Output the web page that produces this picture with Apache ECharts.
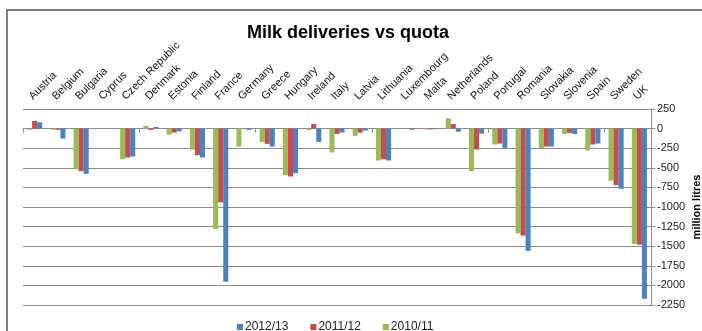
<!DOCTYPE html>
<html>
<head>
<meta charset="utf-8">
<script src="https://cdn.jsdelivr.net/npm/echarts@6/dist/echarts.min.js"></script>
<style>
html,body{margin:0;padding:0;background:#fff;}
#chart{width:702px;height:331px;}
</style>
</head>
<body>
<div id="chart"></div>
<script>
var categories = ['Austria','Belgium','Bulgaria','Cyprus','Czech Republic','Denmark','Estonia','Finland','France','Germany','Greece','Hungary','Ireland','Italy','Latvia','Lithuania','Luxembourg','Malta','Netherlands','Poland','Portugal','Romania','Slovakia','Slovenia','Spain','Sweden','UK'];
var s2012 = [80,-127,-577,0,-356,21,-34,-369,-1955,-17,-229,-568,-170,-51,-25,-407,-15,-8,-40,-64,-246,-1560,-229,-68,-191,-767,-2171];
var s2011 = [97,-15,-543,0,-369,-17,-51,-339,-941,0,-195,-611,59,-68,-51,-390,0,-10,59,-267,-191,-1365,-229,-55,-203,-721,-1480];
var s2010 = [-13,-15,-517,0,-390,34,-76,-267,-1280,-229,-170,-594,-17,-305,-93,-407,-3,-10,131,-542,-203,-1335,-250,-68,-280,-665,-1471];
var seriesNames = ['2012/13','2011/12','2010/11'];
var yTicks = {min:-2250, max:250, interval:250};

var chart = echarts.init(document.getElementById('chart'), null, {renderer:'canvas'});
var font = 'Liberation Sans, Arial, sans-serif';
var gridColor = '#8c8c8c';
chart.setOption({
  animation:false,
  backgroundColor:'#fff',
  title:{
    text:'Milk deliveries vs quota',
    left:242, top:19,
    textStyle:{fontFamily:font,fontSize:18,fontWeight:'bold',color:'#000'}
  },
  graphic:[{
    type:'rect', shape:{x:7,y:10,width:800,height:400},
    style:{fill:null,stroke:'#7f7f7f',lineWidth:2}, silent:true
  }],
  legend:{
    data:seriesNames,
    left:232, top:316,
    itemWidth:6, itemHeight:6, itemGap:22,
    icon:'rect',
    textStyle:{fontFamily:font,fontSize:12,color:'#222',padding:[0,0,0,-3]}
  },
  grid:{left:23,right:51,top:109,bottom:26,containLabel:false,outerBoundsMode:'none'},
  xAxis:[{
    type:'category', data:categories, position:'bottom',
    axisLine:{onZero:true,lineStyle:{color:gridColor,width:1}},
    axisTick:{show:true,length:4,inside:false,lineStyle:{color:gridColor}},
    axisLabel:{show:false}
  },{
    type:'category', data:categories, position:'top',
    axisLine:{show:false}, axisTick:{show:false},
    axisLabel:{show:true,rotate:-45,interval:0,margin:7,align:'left',verticalAlign:'bottom',
      fontFamily:font,fontSize:11,color:'#111'}
  }],
  yAxis:{
    type:'value', position:'right',
    min:yTicks.min, max:yTicks.max, interval:yTicks.interval,
    name:'million litres', nameLocation:'middle', nameRotate:90, nameGap:40, nameMoveOverlap:false,
    nameTextStyle:{fontFamily:font,fontSize:11,fontWeight:'bold',color:'#000'},
    axisLine:{show:true,lineStyle:{color:gridColor}},
    axisTick:{show:true,length:4,lineStyle:{color:gridColor}},
    axisLabel:{margin:6,fontFamily:font,fontSize:11,color:'#222',formatter:function(v){return String(v);}},
    splitLine:{show:true,lineStyle:{color:gridColor,width:1}}
  },
  series:[
    {name:'2010/11',type:'bar',data:s2010,itemStyle:{color:'#9BBB59'},barGap:'0%',barCategoryGap:'35%'},
    {name:'2011/12',type:'bar',data:s2011,itemStyle:{color:'#C0504D'},barGap:'0%',barCategoryGap:'35%'},
    {name:'2012/13',type:'bar',data:s2012,itemStyle:{color:'#4F81BD'},barGap:'0%',barCategoryGap:'35%'}
  ]
});
</script>
</body>
</html>
